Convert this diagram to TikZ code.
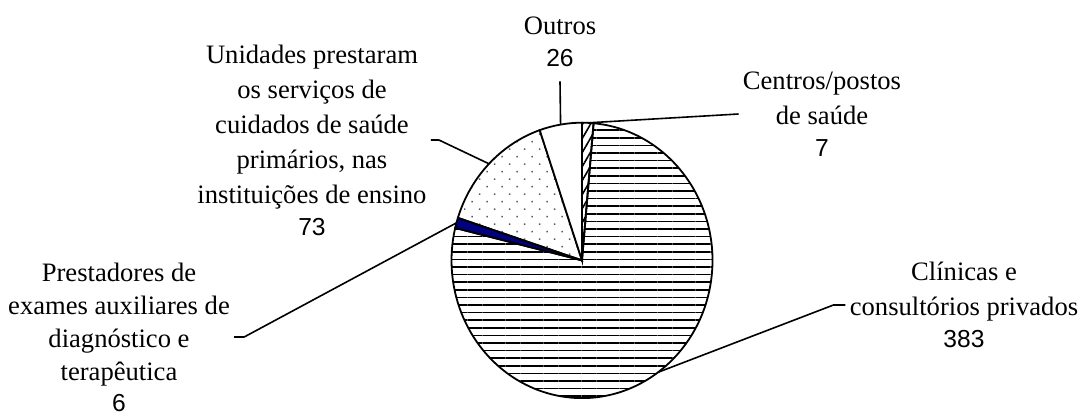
\documentclass[tikz,border=0pt]{standalone}
\usepackage{fontspec}
\setmainfont{Liberation Serif}
\newfontfamily\numfont{Liberation Sans}
\usepackage{tikz}
\usetikzlibrary{patterns.meta}
\definecolor{PieNavy}{RGB}{0,0,128}
\newcommand{\valfont}{\numfont\fontsize{12.3}{17.5}\selectfont}

\begin{document}
\begin{tikzpicture}[x=0.5pt,y=0.5pt]
				\tikzstyle{every node}=[align=center, inner sep=2pt, font=\fontsize{13.3}{17.5}\selectfont];
				\tikzstyle{slice}=[draw=black, line width=0.9pt];
				\tikzstyle{pie}=[x radius=65.25pt, y radius=68.85pt];
				\tikzstyle{leader}=[line width=0.8pt];
				\useasboundingbox (0,0) rectangle (1083,419);
				\coordinate (c) at (582,158.6);
				\draw[slice, pattern={Lines[angle=60,distance=3.5pt,line width=0.8pt]}] (c) -- ++(90:65.25pt and 68.85pt) arc[pie, start angle=90, end angle=84.909] -- cycle;
				\draw[slice, pattern={Lines[angle=0,distance=3.8pt,line width=0.75pt]}] (c) -- ++(84.909:65.25pt and 68.85pt) arc[pie, start angle=84.909, end angle=-193.636] -- cycle;
				\draw[slice, fill=PieNavy] (c) -- ++(-193.636:65.25pt and 68.85pt) arc[pie, start angle=-193.636, end angle=-198] -- cycle;
				\draw[slice, pattern={Dots[angle=45,distance=5.3pt,radius=0.5pt]}, pattern color=gray!70!black] (c) -- ++(-198:65.25pt and 68.85pt) arc[pie, start angle=-198, end angle=-251.091] -- cycle;
				\draw[slice, fill=white] (c) -- ++(-251.091:65.25pt and 68.85pt) arc[pie, start angle=-251.091, end angle=-270] -- cycle;
				\coordinate (pcen) at ([shift={(87.45:65.25pt and 68.85pt)}]c);
				\coordinate (pclin) at ([shift={(-54.36:65.25pt and 68.85pt)}]c);
				\coordinate (pprest) at ([shift={(-195.82:65.25pt and 68.85pt)}]c);
				\coordinate (punid) at ([shift={(-224.55:65.25pt and 68.85pt)}]c);
				\coordinate (pout) at ([shift={(-260.55:65.25pt and 68.85pt)}]c);
				\node (tout) at (560,377) {Outros\\[-1.5pt]{\valfont 26}};
				\node (tcen) at (822,305) {Centros/postos\\de saúde\\[-1.5pt]{\valfont 7}};
				\node (tunid) at (312,279) {Unidades prestaram\\os serviços de\\cuidados de saúde\\primários, nas\\instituições de ensino\\[-1.5pt]{\valfont 73}};
				\node (tprest) at (119,82) {Prestadores de\\[-1pt]exames auxiliares de\\[-1pt]diagnóstico e\\[-1pt]terapêutica\\[-2pt]{\valfont 6}};
				\node (tclin) at (964,114) {Clínicas e\\consultórios privados\\[-1.5pt]{\valfont 383}};
				\draw[leader] ([yshift=-5pt]tout.south) -- (pout);
				\draw[leader] (tcen.west) -- (pcen);
				\draw[leader] (tunid.east) -- ++(8,0) -- (punid);
				\draw[leader] (tprest.east) -- ++(10,0) -- (pprest);
				\draw[leader] (tclin.west) -- ++(-12,0) -- (pclin);
\end{tikzpicture}
\end{document}
